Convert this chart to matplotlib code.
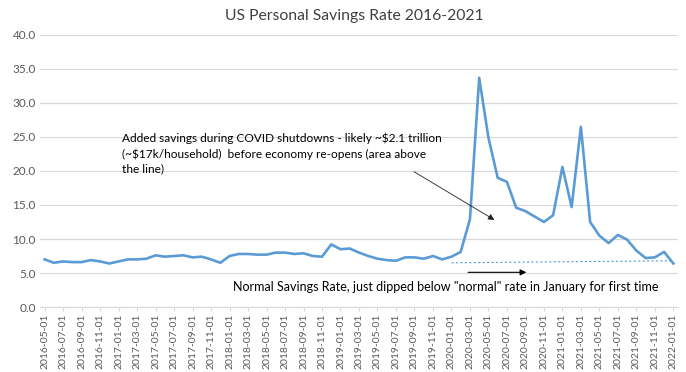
import numpy as np
import pandas as pd
from matplotlib import pyplot as plt

plt.rcParams['font.family'] = ['Lato', 'DejaVu Sans']

# monthly personal savings rate (%), 2016-05 .. 2022-01
months = pd.date_range('2016-05-01', '2022-01-01', freq='MS').strftime('%Y-%m-%d').tolist()
rate = [7.0, 6.5, 6.7, 6.6, 6.6, 6.9, 6.7, 6.4,
        6.7, 7.0, 7.0, 7.1, 7.6, 7.4, 7.5, 7.6, 7.3, 7.4, 7.0, 6.5,
        7.5, 7.8, 7.8, 7.7, 7.7, 8.0, 8.0, 7.8, 7.9, 7.5, 7.4, 9.2,
        8.5, 8.6, 8.0, 7.5, 7.1, 6.9, 6.8, 7.3, 7.3, 7.1, 7.5, 7.0,
        7.4, 8.1, 12.9, 33.7, 24.9, 19.0, 18.4, 14.6, 14.1, 13.3, 12.5, 13.5,
        20.6, 14.7, 26.5, 12.5, 10.5, 9.4, 10.6, 9.9, 8.3, 7.2, 7.3, 8.1,
        6.4]

# "normal" rate reference line, drawn from 2020-01 to 2022-01
normal_months = ['2020-01-01', '2022-01-01']
normal_rate = [6.5, 6.8]

yticks = np.arange(0, 45, 5)

x = np.arange(len(months))
idx = {m: i for i, m in enumerate(months)}

fig = plt.figure(figsize=(6.86, 3.72), dpi=100)
ax = fig.add_axes([0.0583, 0.1747, 0.93, 0.7313])

ax.plot(x, rate, color='#5B9BD5', lw=1.9, solid_joinstyle='round', zorder=3)
ax.plot([idx[m] for m in normal_months], normal_rate, color='#5B9BD5',
        lw=0.8, ls=(0, (2, 2)), zorder=2)

ax.set_xlim(-0.5, len(months) - 0.5)
ax.set_ylim(0, 40)
ax.set_yticks(yticks)
ax.set_yticklabels(['%.1f' % v for v in yticks], fontsize=8.5, color='#595959')
ax.grid(axis='y', color='#D9D9D9', lw=0.9)
ax.set_axisbelow(True)

ax.set_xticks(x[::2])
ax.set_xticklabels(months[::2], rotation=90, fontsize=7.5, color='#595959')
ax.tick_params(axis='y', length=0, pad=3)
ax.tick_params(axis='x', length=3, color='#D9D9D9', pad=2)

for s in ['top', 'right', 'left']:
    ax.spines[s].set_visible(False)
ax.spines['bottom'].set_color('#D9D9D9')

fig.text(0.517, 0.958, 'US Personal Savings Rate 2016-2021', ha='center', va='center',
         fontsize=11.3, color='#404040')

ax.text(idx['2017-01-01'] + 0.4, 25.6,
        'Added savings during COVID shutdowns - likely ~$2.1 trillion\n'
        '(~$17k/household)  before economy re-opens (area above\n'
        'the line)', fontsize=8.6, color='black', va='top', ha='left', linespacing=1.4)
ax.annotate('', xy=(48.9, 12.6), xytext=(39.7, 20.1),
            arrowprops=dict(arrowstyle='-|>', color='#202020', lw=0.6, mutation_scale=9))

ax.text(idx['2018-01-01'] + 0.4, 2.9,
        'Normal Savings Rate, just dipped below "normal" rate in January for first time',
        fontsize=9, color='black', va='center', ha='left')
ax.annotate('', xy=(52.4, 5.1), xytext=(45.5, 5.1),
            arrowprops=dict(arrowstyle='-|>', color='black', lw=0.8, mutation_scale=9))

fig.savefig('out.png', dpi=100)
